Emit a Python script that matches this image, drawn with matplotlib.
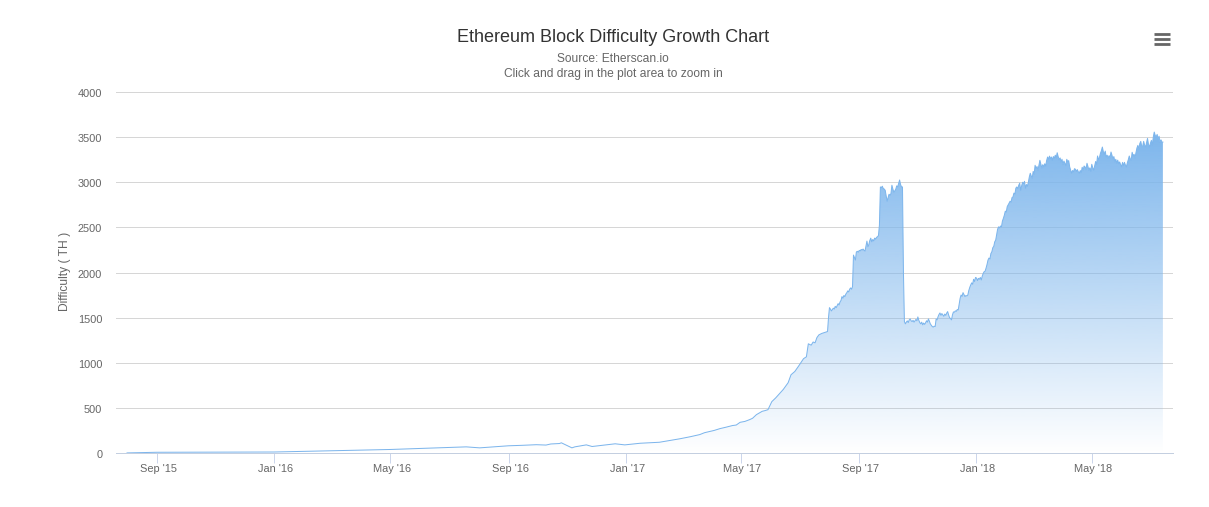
import datetime as dt
import numpy as np
import matplotlib
matplotlib.use('Agg')
import matplotlib.pyplot as plt
import matplotlib.dates as mdates
from matplotlib.lines import Line2D
from matplotlib.transforms import ScaledTranslation

plt.rcParams['font.family'] = ['Liberation Sans', 'DejaVu Sans']

start = dt.date(2015, 9, 1)

# days since 1 Sep 2015
days_low = [-31, 0, 122, 243, 322, 336, 366, 380, 395, 405, 410, 419, 421, 432, 435, 447, 453, 477, 487, 503,
            523, 544, 555, 565, 570, 575, 580, 586, 592, 599, 603, 607, 612, 617, 620, 624, 630, 633, 636, 640,
            644, 648, 652, 657, 660, 664, 668, 671, 673, 676, 678, 681, 683, 685, 687, 689, 692, 695, 698]
diff_low = [1, 8, 11, 39, 68, 57, 80, 85, 92, 88, 100, 105, 113, 57, 68, 90, 72, 102, 90, 108,
            119, 157, 180, 204, 225, 238, 250, 270, 285, 304, 310, 340, 350, 370, 385, 425, 462, 470, 480, 569,
            610, 657, 705, 779, 867, 904, 965, 1014, 1045, 1066, 1210, 1195, 1230, 1221, 1280, 1309, 1325, 1335, 1346]

# daily from day 699 on
diff_bubble = [1500, 1611, 1595, 1574, 1590, 1605, 1595, 1625, 1610, 1633, 1655, 1640, 1674, 1690, 1733, 1715, 1745, 1733, 1760, 1775,
               1796, 1785, 1815, 1829, 1815, 1843, 2193, 2165, 2138, 2227, 2235, 2225, 2245, 2240, 2255, 2249, 2260, 2245, 2238, 2290,
               2348, 2285, 2310, 2355, 2381, 2340, 2365, 2350, 2381, 2370, 2390, 2396, 2410, 2525, 2948, 2940, 2956, 2930, 2925, 2911,
               2850, 2790, 2830, 2867, 2855, 2875, 2967, 2925, 2890, 2905, 2923, 2960, 2948, 2985, 3025, 2975, 2948, 2948, 2000]

diff_dip = [1456, 1431, 1450, 1464, 1445, 1475, 1486, 1465, 1456, 1470, 1450, 1464, 1480, 1465, 1508, 1470, 1445, 1431, 1450, 1420,
            1440, 1425, 1442, 1465, 1450, 1486, 1460, 1430, 1415, 1401, 1395, 1405, 1401, 1486, 1475, 1510, 1535, 1552, 1525, 1545,
            1530, 1515, 1540, 1525, 1550, 1567, 1530, 1500, 1490, 1475, 1530, 1563, 1560, 1575, 1570, 1590, 1585, 1650, 1715, 1751,
            1735, 1777, 1755, 1733, 1745, 1740, 1751, 1800, 1835, 1862, 1885, 1870, 1925, 1900, 1945, 1939, 1910, 1935, 1925, 1945,
            1917, 1960, 1990, 2009, 2015, 2050, 2090, 2138, 2160, 2150, 2210, 2230, 2275, 2290, 2340, 2359, 2420, 2480, 2506, 2495,
            2515, 2506, 2570, 2600, 2635, 2680, 2670, 2730, 2750, 2768, 2790, 2780, 2830, 2838, 2880, 2870, 2935, 2948, 2930]

diff_top = [2967, 2990, 2911, 2960, 3000, 2985, 3010, 2934, 2975, 2955, 3000, 3060, 3100, 3070, 3045, 3120, 3090, 3188, 3150, 3175,
            3133, 3190, 3243, 3200, 3158, 3195, 3170, 3205, 3180, 3240, 3280, 3255, 3290, 3260, 3280, 3245, 3285, 3265, 3300, 3270,
            3327, 3285, 3250, 3270, 3225, 3255, 3195, 3235, 3210, 3185, 3254, 3225, 3240, 3170, 3135, 3100, 3130, 3115, 3150, 3144,
            3120, 3140, 3115, 3100, 3130, 3105, 3166, 3135, 3180, 3170, 3140, 3210, 3175, 3133, 3160, 3120, 3199, 3160, 3133, 3180,
            3230, 3200, 3291, 3250, 3276, 3320, 3350, 3390, 3340, 3310, 3345, 3280, 3300, 3265, 3295, 3270, 3335, 3300, 3260, 3285,
            3225, 3255, 3210, 3245, 3205, 3225, 3195, 3170, 3220, 3185, 3221, 3190, 3170, 3215, 3250, 3291, 3260, 3243, 3332, 3290,
            3310, 3269, 3330, 3380, 3409, 3365, 3430, 3453, 3395, 3401, 3453, 3410, 3390, 3440, 3486, 3420, 3390, 3430, 3464, 3410,
            3500, 3556, 3520, 3501, 3530, 3480, 3510, 3445, 3470, 3445, 3445]

tick_dates = [dt.date(2015, 9, 1), dt.date(2016, 1, 1), dt.date(2016, 5, 1), dt.date(2016, 9, 1), dt.date(2017, 1, 1),
              dt.date(2017, 5, 1), dt.date(2017, 9, 1), dt.date(2018, 1, 1), dt.date(2018, 5, 1)]
tick_labels = ["Sep '15", "Jan '16", "May '16", "Sep '16", "Jan '17", "May '17", "Sep '17", "Jan '18", "May '18"]
y_ticks = [0, 500, 1000, 1500, 2000, 2500, 3000, 3500, 4000]

diff = diff_low + diff_bubble + diff_dip + diff_top
days = days_low + list(range(699, 699 + len(diff_bubble) + len(diff_dip) + len(diff_top)))
x = mdates.date2num([start + dt.timedelta(days=d) for d in days])

fig = plt.figure(figsize=(12.09, 5.07), dpi=100)
ax = fig.add_axes([115.5 / 1209, (507 - 453) / 507, (1173 - 116) / 1209, 361 / 507])

ax.grid(axis='y', color='#d6d6d6', linewidth=0.72)
ax.set_axisbelow(True)

# gradient fill under the curve
poly = ax.fill_between(x, diff, 0, color='none')
rgba = np.zeros((256, 1, 4))
rgba[:, :, 0] = 124 / 255
rgba[:, :, 1] = 181 / 255
rgba[:, :, 2] = 236 / 255
rgba[:, :, 3] = np.linspace(1.0, 0.0, 256)[:, None]
img = ax.imshow(rgba, extent=[x[0], x[-1], 0, 3560], aspect='auto', origin='upper', zorder=2)
img.set_clip_path(poly.get_paths()[0], transform=ax.transData)

ax.plot(x, diff, color='#7cb5ec', linewidth=0.72, zorder=3)

ax.set_xlim(mdates.date2num(start + dt.timedelta(days=-42.7)), mdates.date2num(start + dt.timedelta(days=1057.3)))
ax.set_ylim(0, 4000)
ax.set_xticks(mdates.date2num(tick_dates))
ax.set_xticklabels(tick_labels)
ax.set_yticks(y_ticks)
ax.tick_params(axis='x', length=7.2, width=0.72, color='#ccd6eb', labelcolor='#666666', labelsize=7.92, pad=1.6)
ax.tick_params(axis='y', length=0, labelcolor='#666666', labelsize=7.92, pad=10.2)

# nudge tick labels by a pixel or so
for lab in ax.get_xticklabels():
    lab.set_transform(lab.get_transform() + ScaledTranslation(1.5 / 100, 1 / 100, fig.dpi_scale_trans))
for lab in ax.get_yticklabels():
    lab.set_transform(lab.get_transform() + ScaledTranslation(1 / 100, -1 / 100, fig.dpi_scale_trans))

for s in ['top', 'right', 'left']:
    ax.spines[s].set_visible(False)
ax.spines['bottom'].set_color('#c4cfe0')
ax.spines['bottom'].set_linewidth(0.72)

fig.text(613 / 1209, 1 - 37.5 / 507, 'Ethereum Block Difficulty Growth Chart', ha='center', va='center', fontsize=12.96, color='#333333')
fig.text(613 / 1209, 1 - 59 / 507, 'Source: Etherscan.io', ha='center', va='center', fontsize=8.64, color='#666666')
fig.text(613 / 1209, 1 - 74 / 507, 'Click and drag in the plot area to zoom in', ha='center', va='center', fontsize=8.64, color='#666666')
fig.text(65 / 1209, 1 - 271 / 507, 'Difficulty ( TH )', ha='center', va='center', rotation=90, fontsize=8.64, color='#666666')

# export menu icon
for yp in [34, 39, 44]:
    fig.add_artist(Line2D([1153.5 / 1209, 1170 / 1209], [1 - yp / 507, 1 - yp / 507], color='#666666', linewidth=2.0, solid_capstyle='butt'))

fig.savefig('out.png', dpi=100)
